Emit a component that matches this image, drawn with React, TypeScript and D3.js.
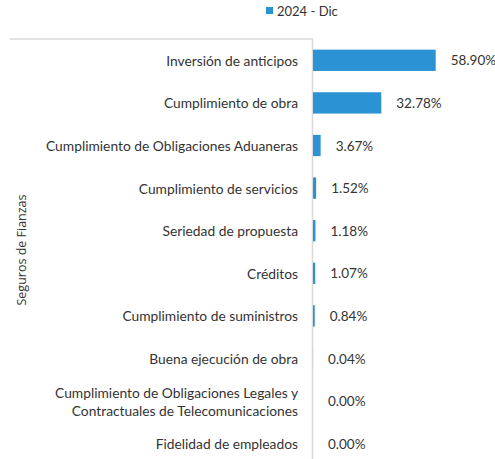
import React from "react";
import * as d3 from "d3";

const categories: string[][] = [
  ["Inversión de anticipos"],
  ["Cumplimiento de obra"],
  ["Cumplimiento de Obligaciones Aduaneras"],
  ["Cumplimiento de servicios"],
  ["Seriedad de propuesta"],
  ["Créditos"],
  ["Cumplimiento de suministros"],
  ["Buena ejecución de obra"],
  ["Cumplimiento de Obligaciones Legales y", "Contractuales de Telecomunicaciones"],
  ["Fidelidad de empleados"],
];
const values: number[] = [58.9, 32.78, 3.67, 1.52, 1.18, 1.07, 0.84, 0.04, 0.0, 0.0];
const seriesName = "2024 - Dic";
const groupName = "Seguros de Fianzas";

const W = 495;
const H = 459;
const FONT = "Lato, 'Noto Sans', sans-serif";
const COLOR = "#2B92D4";
const AXIS = "#D9D9D9";

export default function App() {
  const axisX = 313;
  const top = 39;
  const idx = categories.map((_, i) => String(i));
  const y = d3.scaleBand<string>().domain(idx).range([top, 465]).paddingInner(0.5).paddingOuter(0.25);
  const x = d3.scaleLinear().domain([0, 60]).range([axisX, 438]);
  const fmt = (v: number) => v.toFixed(2) + "%";

  return (
    <svg width={W} height={H} style={{ position: "absolute", left: 0, top: 0 }} fontFamily={FONT}>
      <rect width={W} height={H} fill="#fff" />
      {/* legend */}
      <rect x={266} y={7} width={7} height={7} fill={COLOR} />
      <text x={277} y={11} dominantBaseline="central" fontSize={13} fill="#333">{seriesName}</text>
      {/* group bracket */}
      <line x1={10} x2={axisX} y1={top} y2={top} stroke={AXIS} strokeWidth={1.5} />
      <line x1={axisX - 0.5} x2={axisX - 0.5} y1={top} y2={H} stroke={AXIS} strokeWidth={1.5} />
      <text
        transform={`translate(21,250) rotate(-90)`}
        textAnchor="middle"
        dominantBaseline="central"
        fontSize={12.5}
        fontFamily="'Open Sans', sans-serif"
        fill="#333"
      >
        {groupName}
      </text>
      {values.map((v, i) => {
        const yc = (y(String(i)) as number) + y.bandwidth() / 2;
        const lines = categories[i];
        return (
          <g key={i}>
            {v > 0 && (
              <rect x={x(0)} y={y(String(i))} width={Math.max(x(v) - x(0), 0)} height={y.bandwidth()} fill={COLOR} />
            )}
            <text x={x(v) + 15} y={yc} dominantBaseline="central" fontSize={13.5} fill="#333">
              {fmt(v)}
            </text>
            {lines.map((l, j) => (
              <text
                key={j}
                x={298}
                y={yc + (j - (lines.length - 1) / 2) * 18}
                textAnchor="end"
                dominantBaseline="central"
                fontSize={13.8}
                fill="#333"
              >
                {l}
              </text>
            ))}
          </g>
        );
      })}
    </svg>
  );
}
